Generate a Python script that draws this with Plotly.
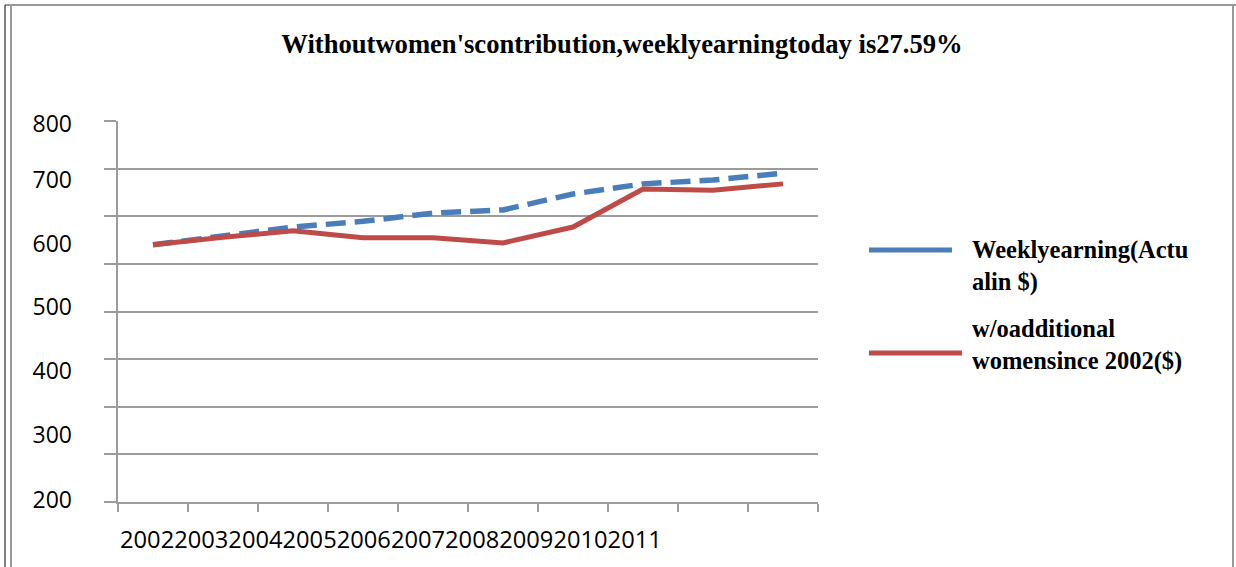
import plotly.graph_objects as go

# ---- data ----
years = ["2002", "2003", "2004", "2005", "2006", "2007", "2008", "2009", "2010", "2011"]
actual = [605, 620, 633, 642, 655, 660, 685, 701, 707, 718]
without_women = [605, 617, 627, 616, 616, 608, 633, 693, 691, 701]
series_names = ["Weeklyearning(Actualin $)", "w/oadditional womensince 2002($)"]
legend_lines = [["Weeklyearning(Actu", "alin $)"], ["w/oadditional", "womensince 2002($)"]]
title_text = "Withoutwomen'scontribution,weeklyearningtoday is27.59%"
y_labels = ["200", "300", "400", "500", "600", "700", "800"]
y_label_pos = [203, 305, 406, 507, 607, 707, 796]

W, H = 1236, 567
L, R, T, B = 118, 818, 121, 502
BLUE = "#4a7ebb"
RED = "#be4b48"
GRID = "#9c9c9c"


def px(xp):
    return (xp - L) / (R - L)


def py(yp):
    return (B - yp) / (B - T)


fig = go.Figure()
fig.add_trace(go.Scatter(x=years, y=actual, mode="lines", name=series_names[0],
                         line=dict(color=BLUE, width=5.5, dash="20px,9px"), yaxis="y"))
fig.add_trace(go.Scatter(x=years, y=without_women, mode="lines", name=series_names[1],
                         line=dict(color=RED, width=5), yaxis="y"))

fig.update_layout(
    width=W, height=H,
    margin=dict(l=L, r=W - R, t=T, b=H - B),
    paper_bgcolor="white", plot_bgcolor="white",
    showlegend=False,
    title=dict(text=title_text, x=622 / W, xanchor="center", xref="container",
               y=1 - 44 / H, yanchor="middle", yref="container",
               font=dict(family="Liberation Serif", size=26.6, color="black", weight="bold")),
    xaxis=dict(type="category", categoryorder="array", categoryarray=years,
               range=[-0.5, 9.5], showgrid=False, showticklabels=False,
               ticks="outside", tickson="boundaries", ticklen=8, tickwidth=2,
               tickcolor=GRID, showline=True, linecolor=GRID, linewidth=2,
               zeroline=False),
    yaxis=dict(range=[200, 800], dtick=75, tick0=200, showgrid=True, gridcolor=GRID,
               gridwidth=2, showticklabels=False, ticks="outside", ticklen=12,
               tickwidth=2, tickcolor=GRID, showline=True, linecolor=GRID,
               linewidth=2, zeroline=False),
    yaxis2=dict(range=[200, 800], overlaying="y", side="left", showgrid=False,
                tickvals=y_label_pos, ticktext=y_labels, ticks="",
                ticklabelstandoff=45, showline=False, zeroline=False,
                tickfont=dict(family="Open Sans", size=23, color="black")),
)

# hidden trace to activate yaxis2
fig.add_trace(go.Scatter(x=[years[0]], y=[y_label_pos[0]], yaxis="y2", mode="markers",
                         marker=dict(opacity=0), hoverinfo="skip", showlegend=False))

# concatenated category labels as in the source
fig.add_annotation(text="".join(years), xref="paper", yref="paper", x=0, y=py(538.5),
                   xanchor="left", yanchor="middle", showarrow=False,
                   font=dict(family="Open Sans", size=23.7, color="black"))

# legend built by hand
leg_y = [266, 344.5]
line_y = [250, 353]
line_x1 = [952, 962]
colors = [BLUE, RED]
for i in range(2):
    fig.add_shape(type="line", xref="paper", yref="paper",
                  x0=px(869), x1=px(line_x1[i]), y0=py(line_y[i]), y1=py(line_y[i]),
                  line=dict(color=colors[i], width=5))
    fig.add_annotation(text="<br>".join(legend_lines[i]), xref="paper", yref="paper",
                       x=px(970), y=py(leg_y[i]), xanchor="left", yanchor="middle",
                       align="left", showarrow=False,
                       font=dict(family="Liberation Serif", size=24.5, color="black",
                                 weight="bold"))

# outer frame
fig.add_shape(type="line", xref="paper", yref="paper", x0=px(5), x1=px(1236),
              y0=py(5), y1=py(5), line=dict(color="#999999", width=2))
fig.add_shape(type="line", xref="paper", yref="paper", x0=px(5), x1=px(5),
              y0=py(5), y1=py(567), line=dict(color="black", width=1))
fig.add_shape(type="line", xref="paper", yref="paper", x0=px(11), x1=px(11),
              y0=py(5), y1=py(567), line=dict(color="#999999", width=2))
fig.add_shape(type="line", xref="paper", yref="paper", x0=px(1233), x1=px(1233),
              y0=py(5), y1=py(567), line=dict(color="#999999", width=2))

fig.write_html("out.html", config={"displayModeBar": False},
               post_script="document.body.style.margin='0';")
